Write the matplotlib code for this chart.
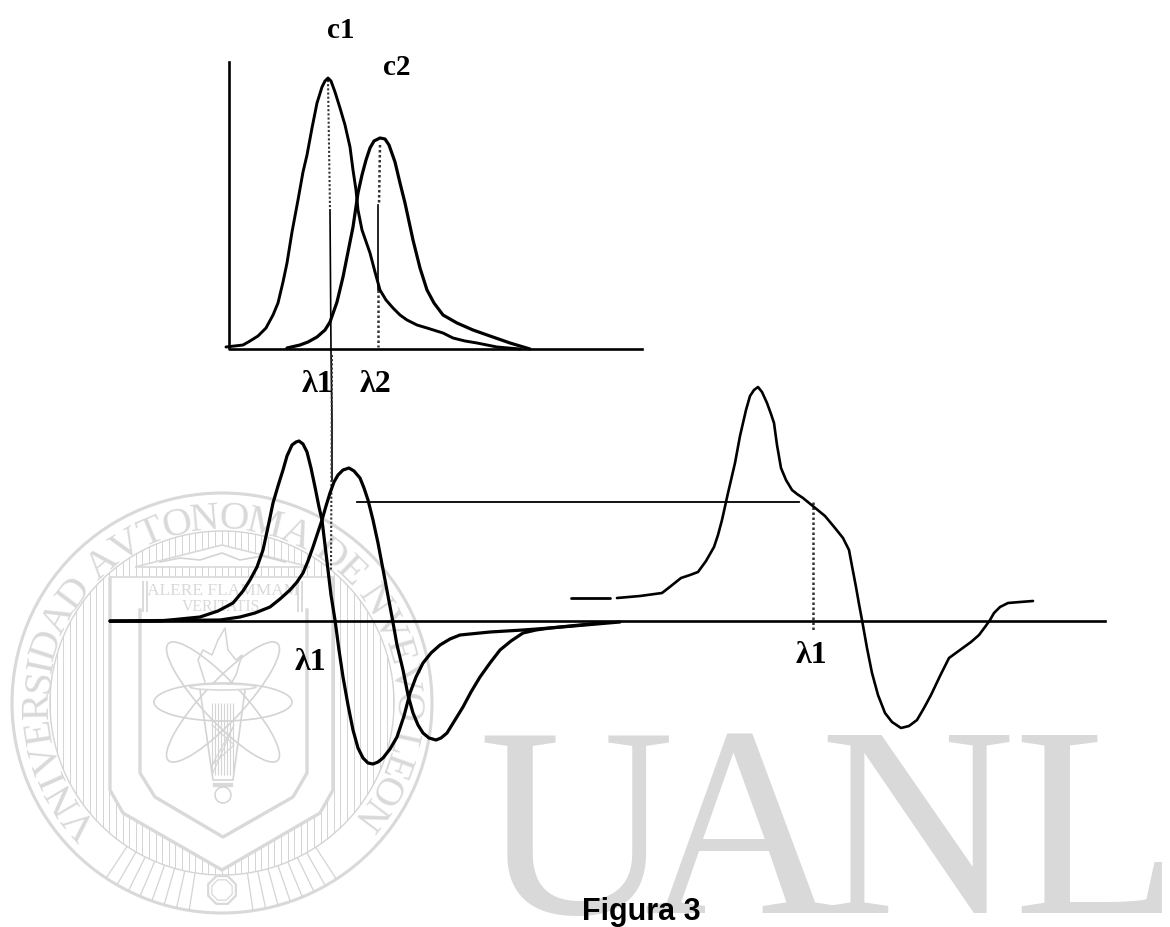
import matplotlib
matplotlib.use("Agg")
import matplotlib.pyplot as plt
from matplotlib.patches import Circle, Ellipse, Polygon, RegularPolygon
from matplotlib.textpath import TextPath
from matplotlib.font_manager import FontProperties
import numpy as np

# ==============================
# DATA
# ==============================

c1_x = [226, 243, 250, 258, 266, 273, 278, 283, 287, 292, 298, 303, 307, 312, 317, 322, 325, 328, 331, 335, 340, 345, 350, 353, 356, 358, 362, 370, 375, 380, 386, 393, 400, 407, 417, 427, 443, 453, 465, 477, 497, 520]
c1_y = [347, 345, 341, 336, 328, 315, 303, 282, 263, 232, 200, 172, 155, 128, 103, 87, 81, 78, 81, 92, 108, 125, 147, 170, 190, 210, 230, 253, 272, 290, 300, 308, 315, 320, 325, 328, 333, 338, 341, 343, 347, 349]

c2_x = [287, 300, 308, 317, 325, 330, 337, 343, 348, 353, 358, 362, 366, 370, 374, 380, 385, 389, 395, 400, 405, 413, 420, 427, 434, 443, 457, 473, 490, 510, 530]
c2_y = [348, 345, 342, 337, 330, 322, 302, 277, 252, 227, 193, 175, 160, 148, 141, 138, 139, 145, 162, 183, 203, 240, 268, 290, 303, 315, 323, 330, 336, 343, 349]

d1_x = [110, 160, 200, 218, 233, 243, 250, 257, 263, 268, 273, 278, 283, 287, 292, 296, 299, 303, 307, 311, 315, 319, 322, 325, 328, 331, 335, 339, 343, 348, 353, 358, 363, 368, 373, 378, 383, 390, 397, 404, 410, 416, 423, 431, 440, 450, 460, 490, 523, 550, 620]
d1_y = [621, 621, 617, 611, 603, 591, 580, 567, 550, 527, 503, 486, 470, 456, 445, 442, 441, 444, 452, 468, 487, 507, 520, 545, 570, 595, 620, 650, 677, 705, 730, 748, 758, 763, 764, 762, 758, 749, 737, 716, 693, 677, 663, 653, 645, 639, 635, 632, 630, 628, 622]

d2_x = [110, 220, 240, 255, 270, 280, 290, 297, 303, 308, 313, 318, 322, 326, 330, 334, 338, 343, 349, 354, 360, 364, 368, 373, 378, 385, 392, 397, 403, 408, 413, 418, 423, 429, 436, 441, 447, 455, 463, 471, 480, 490, 500, 511, 523, 536, 550, 600]
d2_y = [621, 620, 617, 613, 607, 599, 590, 582, 573, 561, 547, 532, 520, 506, 493, 482, 475, 470, 468, 471, 478, 488, 500, 520, 543, 580, 617, 645, 670, 695, 713, 725, 733, 738, 740, 738, 733, 720, 707, 692, 677, 663, 650, 641, 633, 630, 628, 623]

right_start_x = [571, 610]
right_start_y = [598, 598]
right_x = [617, 640, 662, 671, 681, 690, 698, 706, 714, 718, 722, 728, 735, 740, 746, 750, 754, 758, 762, 767, 771, 774, 777, 781, 786, 792, 797, 803, 814, 825, 835, 843, 849, 852, 856, 859, 862, 867, 872, 878, 885, 892, 901, 909, 917, 924, 931, 940, 949, 960, 971, 979, 985, 990, 994, 1000, 1008, 1020, 1033]
right_y = [598, 596, 593, 586, 578, 575, 572, 561, 547, 535, 520, 493, 463, 436, 410, 396, 390, 387, 392, 403, 414, 423, 445, 468, 480, 490, 494, 498, 507, 516, 528, 538, 550, 566, 587, 604, 620, 648, 673, 695, 713, 722, 728, 726, 720, 708, 695, 676, 658, 650, 642, 635, 627, 620, 613, 607, 603, 602, 601]

axis_x = [229, 229, 642]
axis_y = [62, 349, 349]
base_x = [110, 1105]
base_y = [621, 621]
horiz_x = [357, 799]
horiz_y = [502, 502]

lam1_solid_x = [330, 331, 332, 332]
lam1_solid_y = [210, 350, 420, 480]
lam1_dot_x = [328, 330]
lam1_dot_y = [80, 210]
lam1_dot2_x = [332, 331]
lam1_dot2_y = [355, 570]
lam2_solid_x = [378, 378]
lam2_solid_y = [205, 290]
lam2_dot_x = [380, 379]
lam2_dot_y = [145, 205]
lam2_dot2_x = [378, 378]
lam2_dot2_y = [290, 347]
right_drop_x = [813, 813]
right_drop_y = [502, 632]

# labels
top_labels = ["c1", "c2"]
top_label_x = [341, 397]
top_label_y = [38, 75]
lam_labels = ["\u03bb1", "\u03bb2", "\u03bb1", "\u03bb1"]
lam_label_x = [317, 376, 310, 811]
lam_label_y = [392, 392, 670, 663]

# watermark
uanl_letters = ["U", "A", "N", "L"]
uanl_x = [478, 643, 819, 1013]
seal_text = "VNIVERSIDAD AVTONOMA DE NVEVO LEON"

# ==============================
# SETUP
# ==============================

fig = plt.figure(figsize=(11.7, 9.27), dpi=100)
ax = fig.add_axes([0, 0, 1, 1])
ax.set_xlim(0, 1170)
ax.set_ylim(927, 0)
ax.axis("off")

GRAY = "#d9d9d9"
LINE = "#d4d4d4"
serif = ["Liberation Serif", "DejaVu Serif"]

# ==============================
# WATERMARK
# ==============================

for ch, x in zip(uanl_letters, uanl_x):
    ax.text(x, 913, ch, family=serif, fontsize=195, color=GRAY, ha="left", va="baseline", zorder=1)

cx, cy = 222, 703
ax.add_patch(Circle((cx, cy), 210, fill=False, ec=GRAY, lw=2.2, zorder=1))
inner = Circle((cx, cy), 172, fill=False, ec=LINE, lw=1.0, zorder=1)
ax.add_patch(inner)

# vertical hatching in the inner disc
hatch = ax.vlines(np.arange(50, 396, 6.6), 520, 880, color=LINE, lw=0.7, zorder=1)
hatch.set_clip_path(inner)

# ring text, one letter at a time
prop = FontProperties(family="Liberation Serif")
widths = [TextPath((0, 0), c if c != " " else "n", size=41, prop=prop).get_extents().width + 4 for c in seal_text]
widths = np.array(widths)
widths[np.array(list(seal_text)) == " "] = 12
centres = np.cumsum(widths) - widths / 2
angles = -130 + (centres - centres[0]) / (centres[-1] - centres[0]) * 257
for c, a in zip(seal_text, angles):
    t = np.radians(a)
    ax.text(cx + 174 * np.sin(t), cy - 174 * np.cos(t), c, family=serif, fontsize=29.5, color=GRAY,
            rotation=-a, rotation_mode="anchor", ha="center", va="baseline", zorder=2)

# radial ticks at the bottom of the ring
for a in list(np.arange(147, 172, 3.5)) + list(np.arange(189, 214, 3.5)):
    t = np.radians(a)
    ax.plot([cx + 173 * np.sin(t), cx + 209 * np.sin(t)], [cy - 173 * np.cos(t), cy - 209 * np.cos(t)],
            color=LINE, lw=0.9, zorder=1)
ax.add_patch(RegularPolygon((cx, 890), 8, radius=15, orientation=np.pi / 8, fc="white", ec=GRAY, lw=1.6, zorder=2))
ax.add_patch(RegularPolygon((cx, 890), 8, radius=11, orientation=np.pi / 8, fill=False, ec=LINE, lw=0.8, zorder=2))

# shield
shield_outer = [(110, 577), (110, 790), (123, 813), (222, 870), (320, 813), (333, 790), (333, 577)]
shield_inner = [(140, 610), (140, 773), (155, 797), (223, 837), (293, 797), (307, 773), (307, 610)]
ax.add_patch(Polygon(shield_outer, closed=False, fc="white", ec=GRAY, lw=2.4, zorder=2))
ax.plot(*zip(*shield_inner), color=GRAY, lw=2.4, zorder=2)
ax.plot([110, 333], [577, 577], color=GRAY, lw=1.2, zorder=2)

# temple
ax.add_patch(Polygon([(135, 567), (222, 545), (310, 567)], closed=True, fc="white", ec=GRAY, lw=1.2, zorder=2))
ax.plot([160, 180, 200, 222, 240, 262, 285], [562, 558, 560, 553, 560, 556, 562], color=LINE, lw=1.2, zorder=2)
ax.vlines([143, 147, 298, 302], 581, 612, color=LINE, lw=1.2, zorder=2)
ax.text(223, 595, "ALERE FLAMMAM", family=serif, fontsize=12.5,
        color=GRAY, ha="center", va="baseline", zorder=2)
ax.text(221, 611, "VERITATIS", family=serif, fontsize=11.3,
        color=GRAY, ha="center", va="baseline", zorder=2)

# atom and torch
ax.add_patch(Ellipse((cx + 1, 702), 138, 38, angle=0, fill=False, ec=LINE, lw=1.2, zorder=2))
for ang in [47, -47]:
    ax.add_patch(Ellipse((cx + 1, 702), 160, 40, angle=ang, fill=False, ec=LINE, lw=1.2, zorder=2))
ax.plot([200, 213, 233, 245], [690, 780, 780, 690], color=LINE, lw=1.2, zorder=2)
ax.add_patch(Ellipse((223, 687), 66, 6, fc="white", ec=GRAY, lw=1.2, zorder=2))
ax.plot([205, 198, 203, 212, 218, 225, 228, 236, 242, 236, 232, 228],
        [682, 660, 650, 655, 640, 628, 650, 660, 655, 675, 682, 684], color=LINE, lw=1.1, zorder=2)
ax.vlines(np.arange(212, 235, 3), 703, 775, color=LINE, lw=0.8, zorder=2)
ax.plot([212, 234, 212, 234, 212], [725, 745, 765, 725, 775], color=LINE, lw=0.8, zorder=2)
ax.plot([215, 231], [785, 785], color=GRAY, lw=3, zorder=2)
ax.add_patch(Circle((223, 795), 8, fc="white", ec=LINE, lw=1.1, zorder=2))

# ==============================
# CURVES
# ==============================

curve_style = dict(color="black", solid_joinstyle="round", solid_capstyle="round", zorder=5)

ax.plot(axis_x, axis_y, color="black", lw=1.9, zorder=5)
ax.plot(base_x, base_y, color="black", lw=1.9, zorder=5)
ax.plot(horiz_x, horiz_y, color="black", lw=1.3, zorder=4)

ax.plot(c1_x, c1_y, lw=2.1, **curve_style)
ax.plot(c2_x, c2_y, lw=2.3, **curve_style)
ax.plot(d1_x, d1_y, lw=2.3, **curve_style)
ax.plot(d2_x, d2_y, lw=2.3, **curve_style)
ax.plot(right_start_x, right_start_y, lw=2.0, **curve_style)
ax.plot(right_x, right_y, lw=1.9, **curve_style)

ax.plot(lam1_solid_x, lam1_solid_y, color="black", lw=1.2, zorder=4)
ax.plot(lam1_dot_x, lam1_dot_y, color="#333333", lw=1.5, ls=(0, (1, 1)), zorder=4)
ax.plot(lam1_dot2_x, lam1_dot2_y, color="#333333", lw=1.5, ls=(0, (1, 1)), zorder=4)
ax.plot(lam2_solid_x, lam2_solid_y, color="black", lw=1.2, zorder=4)
ax.plot(lam2_dot_x, lam2_dot_y, color="#333333", lw=1.8, ls=(0, (1, 1)), zorder=4)
ax.plot(lam2_dot2_x, lam2_dot2_y, color="#333333", lw=1.8, ls=(0, (1, 1)), zorder=4)
ax.plot(right_drop_x, right_drop_y, color="#333333", lw=1.8, ls=(0, (1, 1)), zorder=4)

# ==============================
# TEXT
# ==============================

for s, x, y in zip(top_labels, top_label_x, top_label_y):
    ax.text(x, y, s, family=serif, fontsize=21, fontweight="bold", color="black",
            ha="center", va="baseline", zorder=6)
for s, x, y in zip(lam_labels, lam_label_x, lam_label_y):
    ax.text(x, y, s, family=serif, fontsize=23, fontweight="bold", color="black",
            ha="center", va="baseline", zorder=6)

ax.text(641, 920, "Figura 3", family=["Liberation Sans"], fontsize=22, fontweight="bold",
        color="black", ha="center", va="baseline", zorder=6)

fig.savefig("out.png", dpi=100, facecolor="white")
